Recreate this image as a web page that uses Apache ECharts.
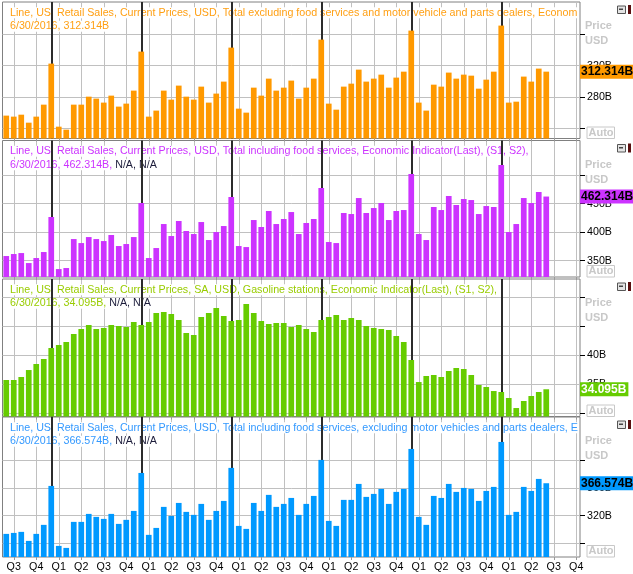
<!DOCTYPE html>
<html><head><meta charset="utf-8">
<script src="https://cdn.jsdelivr.net/npm/echarts@6/dist/echarts.min.js"></script>
<style>html,body{margin:0;padding:0;background:#fff}#c{width:633px;height:574px}</style>
</head><body><div id="c"></div>
<script>
// ---- categories (monthly) ----
const months = [
 '2010-06','2010-07','2010-08','2010-09','2010-10','2010-11','2010-12',
 '2011-01','2011-02','2011-03','2011-04','2011-05','2011-06','2011-07','2011-08','2011-09','2011-10','2011-11','2011-12',
 '2012-01','2012-02','2012-03','2012-04','2012-05','2012-06','2012-07','2012-08','2012-09','2012-10','2012-11','2012-12',
 '2013-01','2013-02','2013-03','2013-04','2013-05','2013-06','2013-07','2013-08','2013-09','2013-10','2013-11','2013-12',
 '2014-01','2014-02','2014-03','2014-04','2014-05','2014-06','2014-07','2014-08','2014-09','2014-10','2014-11','2014-12',
 '2015-01','2015-02','2015-03','2015-04','2015-05','2015-06','2015-07','2015-08','2015-09','2015-10','2015-11','2015-12',
 '2016-01','2016-02','2016-03','2016-04','2016-05','2016-06','2016-07','2016-08','2016-09','2016-10'
];
const yearEnds = ['2010-12','2011-12','2012-12','2013-12','2014-12','2015-12'];
const quarterNames = {'01':'Q1','04':'Q2','07':'Q3','10':'Q4'};

// ---- series values (billions USD) ----
const exFoodAndAuto = [256.2,254.9,257.4,247.2,254.9,270.2,322.6,242.1,238.3,270.2,
 270.2,280.4,277.9,272.8,281.7,267.7,271.5,288.1,337.9,254.9,
 262.6,288.1,276.6,294.5,280.4,276.6,293.2,272.8,284.3,299.6,
 343.0,265.1,260.0,291.9,281.7,303.4,288.1,291.9,300.9,277.9,
 291.9,303.4,353.2,271.5,263.8,293.2,297.0,314.9,299.6,303.4,
 308.5,291.9,304.7,312.3,364.7,272.8,262.6,295.7,293.2,311.1,
 303.4,308.5,307.2,290.6,302.1,312.3,371.1,272.8,274.0,306.0,
 299.6,316.2,312.314];
const totalInclFood = [358.2,361.7,363.4,345.9,354.7,365.2,426.5,335.4,337.2,387.9,
 380.9,391.4,387.9,384.4,395.0,375.7,379.2,391.4,451.0,354.7,
 372.2,414.2,393.2,419.5,402.0,396.7,417.7,386.2,400.2,410.7,
 461.5,375.7,373.9,421.2,409.0,437.0,414.2,423.0,435.2,396.7,
 416.0,423.0,477.3,382.7,380.9,433.5,431.7,459.7,433.5,442.2,
 451.0,421.2,437.0,438.7,501.8,396.7,386.2,444.0,438.7,463.3,
 447.5,458.0,456.2,431.7,445.7,444.0,517.5,400.2,414.2,459.7,
 451.0,470.3,462.314];
const gasolineSA = [35.69,35.69,36.21,37.41,38.45,39.31,41.21,41.72,42.24,43.62,
 44.48,45.17,44.48,44.66,45.17,45.0,44.83,45.69,45.17,45.69,
 47.24,47.41,47.07,46.03,43.79,43.45,46.55,47.24,48.10,46.72,
 45.86,46.03,48.79,47.24,45.86,45.34,45.52,45.52,44.83,45.17,
 44.48,43.97,46.03,46.55,46.90,46.03,46.38,46.03,45.0,44.66,
 44.48,44.31,43.28,42.24,39.14,35.34,36.38,36.55,36.21,37.24,
 37.76,37.59,36.55,34.83,34.48,33.79,33.62,32.59,30.86,32.07,
 32.93,33.62,34.095];
const inclFoodExAuto = [293.6,295.0,296.5,283.5,293.6,306.6,362.7,276.3,273.4,310.9,
 310.9,322.4,318.1,315.2,322.4,308.0,313.8,326.7,381.4,292.2,
 302.2,332.5,319.5,338.2,325.3,321.0,336.8,313.8,326.7,341.1,
 388.7,305.1,300.8,338.2,326.7,349.8,332.5,336.8,345.4,321.0,
 336.8,348.3,400.2,312.3,305.1,342.6,342.6,365.6,346.9,351.2,
 358.4,336.8,354.1,358.4,416.0,318.1,306.6,348.3,345.4,365.6,
 354.1,359.8,358.4,341.1,355.5,361.3,426.1,321.0,325.3,361.3,
 355.5,372.8,366.574];

// ---- y tick values / labels ----
const ticks1 = [240,280,320,360], labels1 = [280,320];
const ticks2 = [350,400,450,500], labels2 = [350,400,450];
const ticks3 = [30,35,40,45,50], labels3 = [35,40];
const ticks4 = [280,320,360,400], labels4 = [320,360];

// ---- headers ----
const titles = [
 'Line, US, Retail Sales, Current Prices, USD, Total excluding food services and motor vehicle and parts dealers, Economic Indicator(Last), (S1, S2),',
 'Line, US, Retail Sales, Current Prices, USD, Total including food services, Economic Indicator(Last), (S1, S2),',
 'Line, US, Retail Sales, Current Prices, SA, USD, Gasoline stations, Economic Indicator(Last), (S1, S2),',
 'Line, US, Retail Sales, Current Prices, USD, Total including food services, excluding motor vehicles and parts dealers, Economic Indicator(Last), (S1, S2),'
];
const subtitles = ['6/30/2016, 312.314B','6/30/2016, 462.314B, ','6/30/2016, 34.095B, ','6/30/2016, 366.574B, '];
const naText = [null,'N/A, N/A','N/A, N/A','N/A, N/A'];
const lastLabels = ['312.314B','462.314B','34.095B','366.574B'];

const FONT = "'Liberation Sans', Arial, sans-serif";
const TFS = 10.7;
const panels = [
 {data: exFoodAndAuto, ticks: ticks1, labels: labels1, color:'#ff9900', text:'#ff9f12', boxText:'#000', top:2, height:136.5, min:227, max:401.2},
 {data: totalInclFood, ticks: ticks2, labels: labels2, color:'#cc33ff', text:'#cc33ff', boxText:'#000', top:140.5, height:136.5, min:321.5, max:560.4},
 {data: gasolineSA, ticks: ticks3, labels: labels3, color:'#66cc00', text:'#99cc00', boxText:'#fff', top:279, height:137.5, min:29.4, max:53.1},
 {data: inclFoodExAuto, ticks: ticks4, labels: labels4, color:'#0099ff', text:'#3399ff', boxText:'#000', top:417, height:140, min:260.3, max:462}
];

const isQ = (i, v) => quarterNames[String(v).slice(5)] !== undefined;

const grid = [], xAxis = [], yAxis = [], series = [], title = [], graphic = [];
panels.forEach((p, i) => {
  grid.push({left:2.5, right:53, top:p.top, height:p.height, show:true, borderColor:'#808080', borderWidth:1, backgroundColor:'transparent'});
  xAxis.push({type:'category', gridIndex:i, data:months, boundaryGap:true,
    axisLine:{show:false},
    axisTick:{show:true, interval:isQ, alignWithLabel:true, length:3, lineStyle:{color:'#999'}},
    axisLabel:{show:i===3, interval:isQ, formatter:v=>quarterNames[v.slice(5)], fontSize:10.7, fontFamily:FONT, color:'#000', margin:5},
    splitLine:{show:true, interval:isQ, alignWithLabel:true, lineStyle:{color:'#c0c0c0', width:1}}
  });
  yAxis.push({type:'value', gridIndex:i, position:'right', min:p.min, max:p.max,
    axisLine:{show:false},
    axisTick:{show:true, customValues:p.ticks, length:5, lineStyle:{color:'#000'}},
    axisLabel:{customValues:p.labels, formatter:v=>v+'B', margin:7, fontSize:10.7, fontFamily:FONT, color:'#000'},
    splitLine:{show:true, lineStyle:{color:'#c0c0c0', width:1}}
  });
  const last = p.data[p.data.length-1];
  series.push({type:'bar', xAxisIndex:i, yAxisIndex:i, data:p.data, barWidth:5.7, z:4,
    itemStyle:{color:p.color}, silent:true,
    markLine:{silent:true, symbol:'none', z:3, animation:false,
      data: yearEnds.map(m=>({xAxis:m, lineStyle:{color:'#2b2b2b', width:2, type:'solid'}, label:{show:false}}))
    }
  });
  series.push({type:'line', xAxisIndex:i, yAxisIndex:i, data:[], clip:false, silent:true, z:6,
    markLine:{silent:true, symbol:'none', z:6, animation:false,
      data:[{yAxis:last, lineStyle:{color:'transparent', width:0},
        label:{show:true, position:'end', distance:0, formatter:lastLabels[i],
          backgroundColor:p.color, color:p.boxText, fontWeight:'bold', fontSize:12, fontFamily:FONT, padding:[1,2,1,1]}}]
    }
  });
  const sub = '{a|' + subtitles[i] + '}' + (naText[i] ? '{b|' + naText[i] + '}' : '');
  title.push({left:10, top:p.top+4, padding:0, z:2,
    text:'{a|' + titles[i] + '}\n' + sub,
    textStyle:{width:569, overflow:'truncate', ellipsis:'', fontSize:TFS, fontWeight:'normal', fontFamily:FONT,
      rich:{a:{color:p.text, fontSize:TFS, fontWeight:'normal', fontFamily:FONT, lineHeight:13.5, backgroundColor:'#fff'},
            b:{color:'#1c1c3a', fontSize:TFS, fontWeight:'normal', fontFamily:FONT, lineHeight:13.5, backgroundColor:'#fff'}}}
  });
  const bottom = p.top + p.height;
  graphic.push(
    {type:'rect', left:617, top:p.top+3.5, shape:{width:8, height:7.5}, style:{fill:'#e4e4e4', stroke:'#555', lineWidth:1}},
    {type:'rect', left:619, top:p.top+6.5, shape:{width:4, height:1.5}, style:{fill:'#444'}},
    {type:'rect', left:628, top:p.top+3, shape:{width:3, height:9}, style:{fill:'#5a1010'}},
    {type:'text', left:585, top:p.top+18.5, style:{text:'Price', fill:'#c8c8c8', font:"bold 11px " + FONT}},
    {type:'text', left:585, top:p.top+33.5, style:{text:'USD', fill:'#c8c8c8', font:"bold 11px " + FONT}},
    {type:'rect', left:586.5, top:bottom-12, shape:{width:27.5, height:11.5}, style:{fill:'#fff', stroke:'#c8c8c8', lineWidth:1}},
    {type:'text', left:588.5, top:bottom-11.5, style:{text:'Auto', fill:'#c8c8c8', font:"bold 11px " + FONT}}
  );
});

const chart = echarts.init(document.getElementById('c'), null, {renderer:'canvas'});
chart.setOption({animation:false, backgroundColor:'#fff', grid, xAxis, yAxis, series, title, graphic});
</script></body></html>
